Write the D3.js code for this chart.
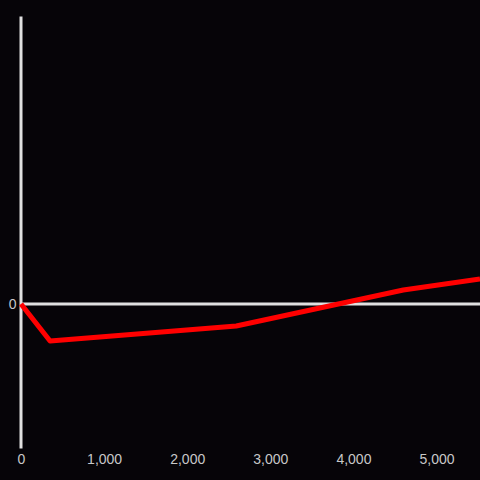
<!DOCTYPE html>
<html>
<head>
  <meta charset="UTF-8" />
  <script src="https://d3js.org/d3.v7.min.js"></script>
  <style>
    html, body { margin: 0; padding: 0; background: #060408; }
    svg { display: block; }
    .tick text { font-family: "Liberation Sans", Arial, sans-serif; font-size: 14px; fill: #c8c8c8; }
  </style>
</head>
<body>
  <svg width="480" height="480"></svg>
  <script>
    // Daten
    const xValues = [0, 350, 2590, 4600, 5523];
    const yValues = [0, -0.257, -0.153, 0.097, 0.174];
    const xTicks = [0, 1000, 2000, 3000, 4000, 5000];
    const yTicks = [0];

    const width = 480, height = 480;
    const svg = d3.select("svg");

    svg.append("rect")
      .attr("width", width)
      .attr("height", height)
      .attr("fill", "#060408");

    const x = d3.scaleLinear().domain([0, 5523]).range([21, 480]);
    const y = d3.scaleLinear().domain([-1, 2]).range([448, 16]);

    // x-Achse (nur Beschriftung)
    const xAxis = svg.append("g")
      .attr("transform", `translate(0,${448})`)
      .call(d3.axisBottom(x).tickValues(xTicks).tickSize(0).tickPadding(6).tickFormat(d3.format(",")));
    xAxis.select(".domain").remove();

    // y-Achse
    const yAxis = svg.append("g")
      .attr("transform", "translate(20.5,0)")
      .call(d3.axisLeft(y).tickValues(yTicks).tickSize(0).tickPadding(4).tickFormat(d3.format(",")));
    yAxis.select(".domain")
      .attr("stroke", "#e0e0e0")
      .attr("stroke-width", 3);

    // Nulllinie
    svg.append("line")
      .attr("x1", 20)
      .attr("x2", width)
      .attr("y1", y(0))
      .attr("y2", y(0))
      .attr("stroke", "#e0e0e0")
      .attr("stroke-width", 3);

    const data = xValues.map((v, i) => ({ x: v, y: yValues[i] }));

    svg.append("path")
      .datum(data)
      .attr("fill", "none")
      .attr("stroke", "#ff0000")
      .attr("stroke-width", 5)
      .attr("stroke-linejoin", "round")
      .attr("d", d3.line().x(d => x(d.x)).y(d => y(d.y)));
  </script>
</body>
</html>
